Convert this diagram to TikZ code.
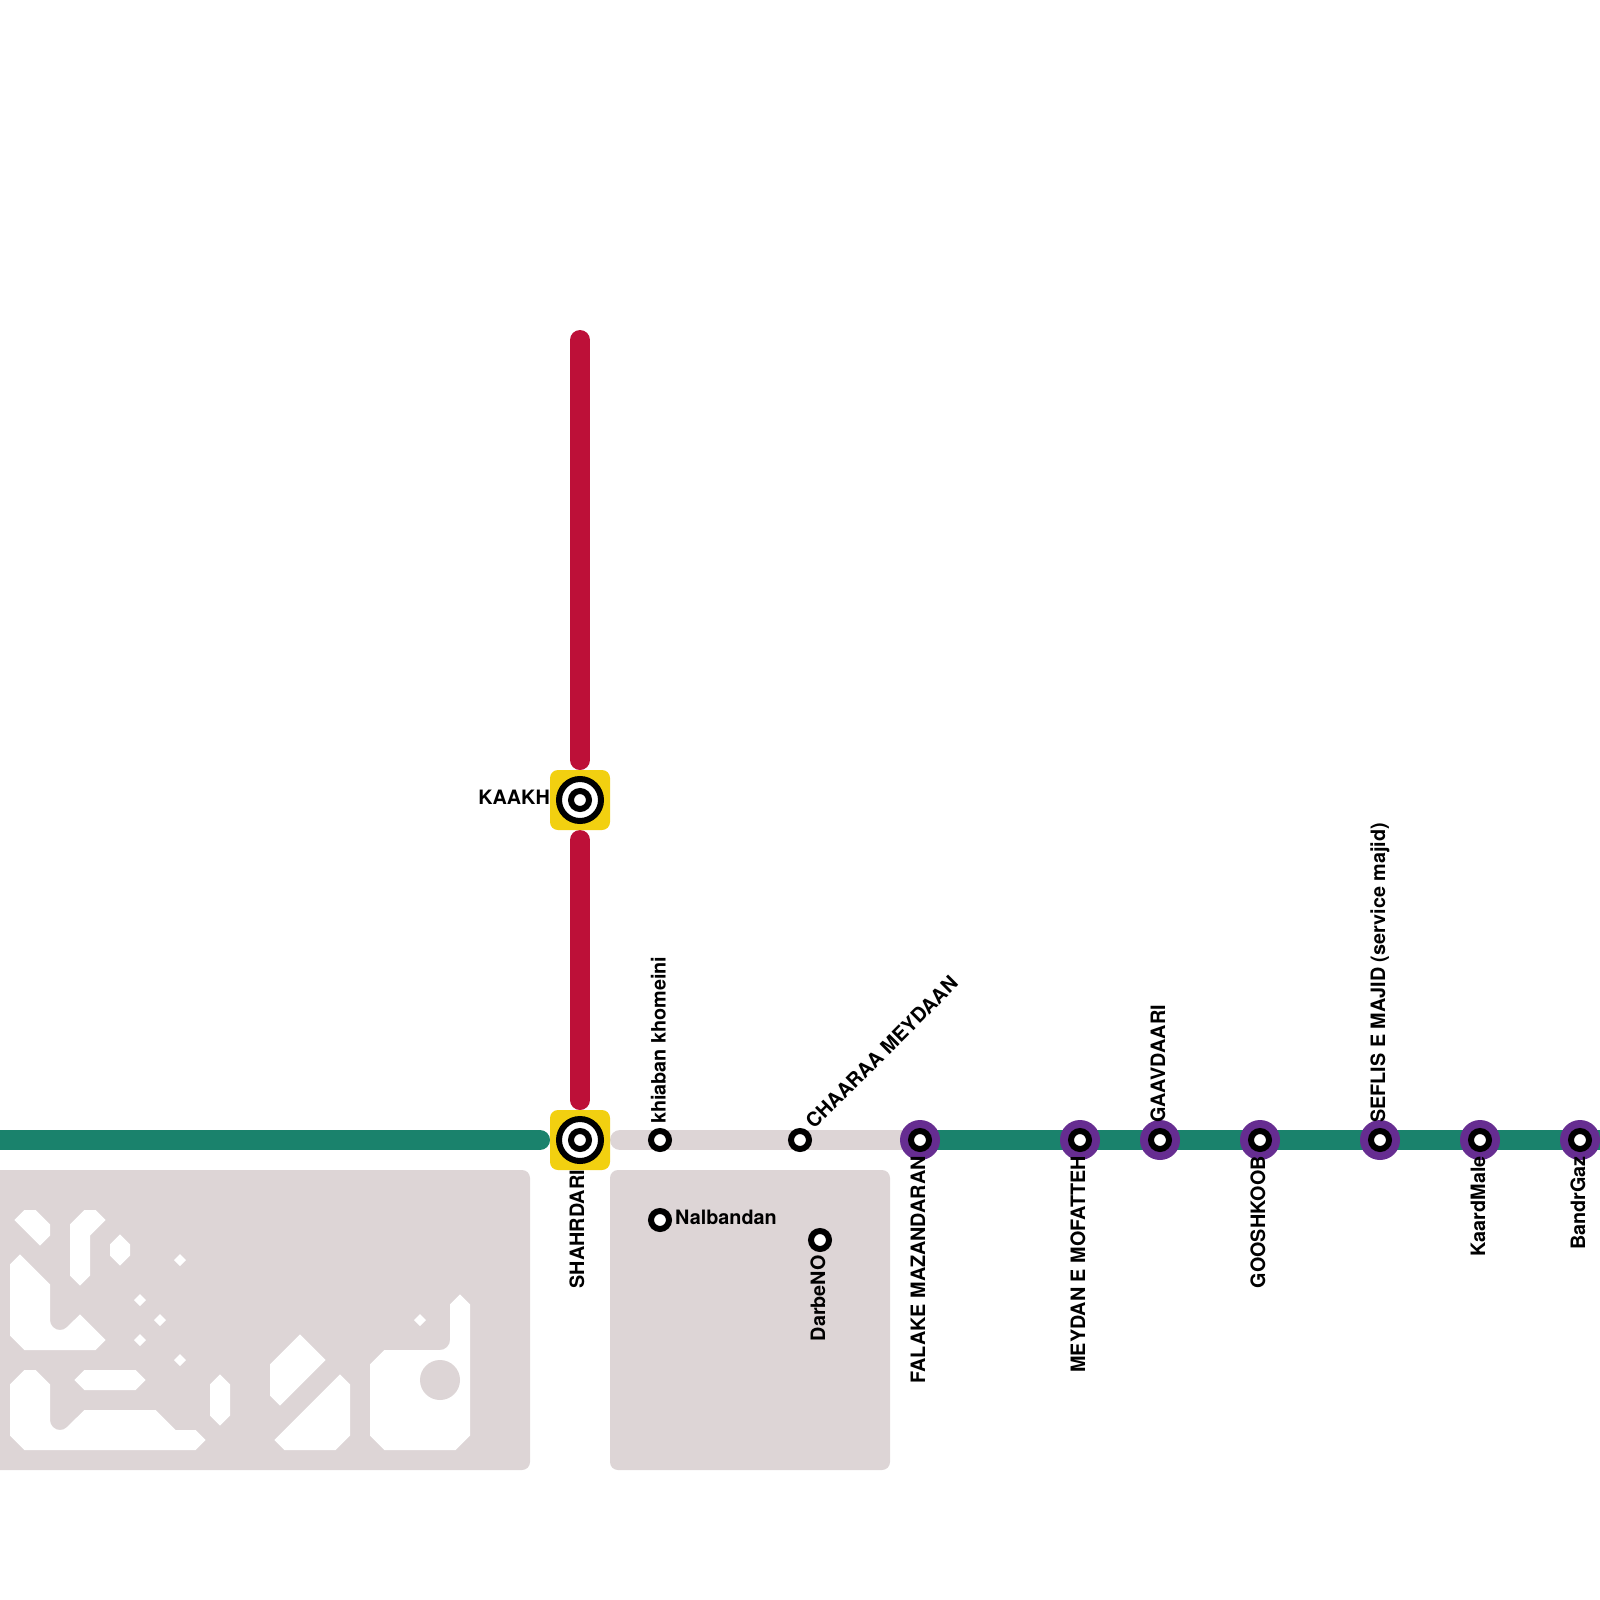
\documentclass[tikz,border=0pt]{standalone}
\usepackage{fontspec}
\setmainfont{TeX Gyre Heros}
\definecolor{lgreen}{HTML}{1A826C}
\definecolor{lred}{HTML}{BD1038}
\definecolor{lyellow}{HTML}{F2D010}
\definecolor{lpurple}{HTML}{662D91}
\definecolor{lgrey}{HTML}{DDD5D6}
\tikzset{
  x=1pt,y=-1pt,
  line/.style={line width=20pt,line cap=round},
  lbl/.style={inner sep=0pt,font=\fontsize{19.8}{21}\selectfont\bfseries,text=black},
  up/.style={lbl,rotate=90},
  tile/.style={fill=lyellow,rounded corners=8pt},
  bigst/.style={circle,inner sep=0pt,minimum size=42pt,draw=black,line width=6pt,fill=white},
  midst/.style={circle,inner sep=0pt,minimum size=18pt,draw=black,line width=6pt,fill=white},
  purplest/.style={circle,inner sep=0pt,minimum size=40pt,fill=lpurple},
  block/.style={fill=lgrey,rounded corners=8pt},
}
\newcommand{\tinydia}[2]{\fill[white] (#1-6,#2) -- (#1,#2-6) -- (#1+6,#2) -- (#1,#2+6) -- cycle;}
\begin{document}
\begin{tikzpicture}
\useasboundingbox (0,0) rectangle (1600,1600);
\begin{scope}
\clip (0,0) rectangle (1600,1600);
% coordinates
\coordinate (redtop) at (580,340);
\coordinate (redA) at (580,760);
\coordinate (redB) at (580,840);
\coordinate (redC) at (580,1100);
\coordinate (greenL) at (-20,1140);
\coordinate (greenA) at (540,1140);
\coordinate (greyA) at (620,1140);
\coordinate (st1) at (920,1140);
\coordinate (greenR) at (1620,1140);
% blocks
\fill[block] (-20,1170) rectangle (530,1470);
\fill[block] (610,1170) rectangle (890,1470);
% lines
\draw[line,lred] (redtop) -- (redA);
\draw[line,lred] (redB) -- (redC);
\draw[line,lgreen] (greenL) -- (greenA);
\draw[line,lgrey] (greyA) -- (st1);
\draw[line,lgreen,line cap=butt] (st1) -- (greenR);
% white shapes left block
\fill[white] (14.3,1220) -- (24.3,1210) -- (35.7,1210) -- (50,1224.3) -- (50,1235.7) -- (40,1245.7) -- cycle;
\fill[white] (70,1224.3) -- (84.3,1210) -- (95.7,1210) -- (105.7,1220) -- (90,1235.7) -- (90,1275.7) -- (80,1285.7) -- (70,1275.7) -- cycle;
\fill[white] (110,1244.3) -- (120,1234.3) -- (130,1244.3) -- (130,1255.7) -- (120,1265.7) -- (110,1255.7) -- cycle;
\fill[white] (10,1264.3) -- (20,1254.3) -- (50,1284.3) -- (50,1320) arc[start angle=180,end angle=45,x radius=10,y radius=10] -- (80,1314.3) -- (105.7,1340) -- (95.7,1350) -- (24.3,1350) -- (10,1335.7) -- cycle;
\fill[white] (10,1384.3) -- (24.3,1370) -- (35.7,1370) -- (50,1384.3) -- (50,1420) arc[start angle=180,end angle=45,x radius=10,y radius=10] -- (84.3,1410) -- (155.7,1410) -- (175.7,1430) -- (195.7,1430) -- (205.7,1440) -- (195.7,1450) -- (24.3,1450) -- (10,1435.7) -- cycle;
\fill[white] (74.3,1380) -- (84.3,1370) -- (135.7,1370) -- (145.7,1380) -- (135.7,1390) -- (84.3,1390) -- cycle;
\fill[white] (210,1384.3) -- (220,1374.3) -- (230,1384.3) -- (230,1415.7) -- (220,1425.7) -- (210,1415.7) -- cycle;
\fill[white] (270,1364.3) -- (300,1334.3) -- (325.7,1360) -- (280,1405.7) -- (270,1395.7) -- cycle;
\fill[white] (274.3,1440) -- (340,1374.3) -- (350,1384.3) -- (350,1435.7) -- (335.7,1450) -- (284.3,1450) -- cycle;
\fill[white] (370,1364.3) -- (384.3,1350) -- (440,1350) arc[start angle=90,end angle=0,x radius=10,y radius=10] -- (450,1304.3) -- (460,1294.3) -- (470,1304.3) -- (470,1435.7) -- (455.7,1450) -- (384.3,1450) -- (370,1435.7) -- cycle;
\fill[lgrey] (440,1380) circle[radius=20];
\tinydia{180}{1260}
\tinydia{140}{1300}
\tinydia{160}{1320}
\tinydia{140}{1340}
\tinydia{180}{1360}
\tinydia{420}{1320}
% interchanges
\fill[tile] (550,770) rectangle (610,830);
\fill[tile] (550,1110) rectangle (610,1170);
\node[bigst] (kaakh) at (580,800) {};
\node[midst] (kaakhin) at (580,800) {};
\node[bigst] (shahr) at (580,1140) {};
\node[midst] (shahrin) at (580,1140) {};
% small stations
\node[midst] (khiaban) at (660,1140) {};
\node[midst] (chaaraa) at (800,1140) {};
\node[midst] (nalb) at (660,1220) {};
\node[midst] (darbe) at (820,1240) {};
% purple stations
\foreach \n/\x in {fal/920,mey/1080,gaa/1160,goo/1260,sef/1380,kaa/1480,ban/1580}{
  \node[purplest] (p\n) at (\x,1140) {};
  \node[midst] (\n) at (\x,1140) {};
}
% labels
\node[lbl,anchor=base east] at (550,804.5) {KAAKH};
\node[up,anchor=base east] at (584,1170) {SHAHRDARI};
\node[up,anchor=base west] at (665.5,1124) {khiaban khomeini};
\node[lbl,rotate=45,anchor=base west] at (814,1130) {CHAARAA MEYDAAN};
\node[lbl,anchor=base west] at (675,1224.5) {Nalbandan};
\node[up,anchor=base east] at (825,1255) {DarbeNO};
\node[up,anchor=base east] at (925,1156) {FALAKE MAZANDARAN};
\node[up,anchor=base east] at (1085,1156) {MEYDAN E MOFATTEH};
\node[up,anchor=base west] at (1165,1123) {GAAVDAARI};
\node[up,anchor=base east] at (1265,1156) {GOOSHKOOB};
\node[up,anchor=base west] at (1385,1123) {SEFLIS E MAJID (service majid)};
\node[up,anchor=base east] at (1485,1156) {KaardMale};
\node[up,anchor=base east] at (1585,1156) {BandrGaz};
\end{scope}
\end{tikzpicture}
\end{document}
